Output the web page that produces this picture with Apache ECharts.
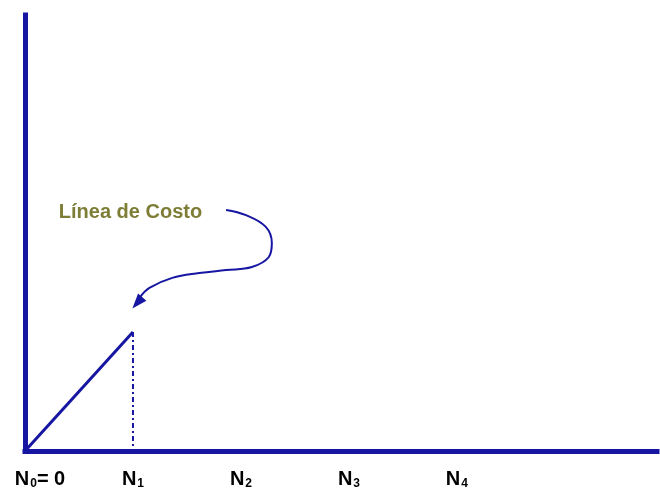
<!DOCTYPE html>
<html>
<head>
<meta charset="utf-8">
<script src="https://cdn.jsdelivr.net/npm/echarts@6/dist/echarts.min.js"></script>
<style>html,body{margin:0;padding:0;background:#fff}#c{width:660px;height:493px}</style>
</head>
<body>
<div id="c"></div>
<script>
// Tick labels (subscript index per N tick)
var tickValues = [0, 1, 2, 3, 4];
var tickSubs = ['0', '1', '2', '3', '4'];
// Cost line: from origin to N1
var costLine = [[0, 0], [1, 27.3]];
// Vertical dash-dot drop at N1
var dropLine = [[1, 27.3], [1, 0]];
// Curved annotation arrow path (data coordinates)
var arrowPath = [[1.862, 55.3], [2.046, 54.1], [2.230, 51.4], [2.286, 47.7], [2.258, 44.5], [2.101, 42.2], [1.862, 41.5], [1.613, 40.8], [1.364, 39.7], [1.152, 37.4], [1.06, 35.1]];
var arrowHead = [[1.04, 34.0]];
// Annotation label
var noteText = 'Línea de Costo';
var notePos = [[0.977, 54.6]];

var blue = '#1616a2';
var chart = echarts.init(document.getElementById('c'));
chart.setOption({
  animation: false,
  backgroundColor: '#ffffff',
  grid: {left: 25, right: 0, top: 15, bottom: 42, containLabel: false},
  xAxis: {
    type: 'value', min: 0, max: 5.853, interval: 1,
    axisLine: {show: true, onZero: false, lineStyle: {color: blue, width: 5, cap: 'square'}},
    axisTick: {show: false},
    splitLine: {show: false},
    axisLabel: {
      margin: 17,
      formatter: function (v) {
        var i = tickValues.indexOf(v);
        if (i < 0) return '';
        if (i === 0) return '{f|N}{s|' + tickSubs[i] + '}{n|= 0}';
        return '{n|N}{s|' + tickSubs[i] + '}';
      },
      rich: {
        f: {fontFamily: 'Liberation Sans', fontWeight: 'bold', fontSize: 20, color: '#000', padding: [0, 0, 0, 30]},
        n: {fontFamily: 'Liberation Sans', fontWeight: 'bold', fontSize: 20, color: '#000'},
        s: {fontFamily: 'Liberation Sans', fontWeight: 'bold', fontSize: 12, color: '#000', padding: [10, 0, 0, 1]}
      }
    }
  },
  yAxis: {
    type: 'value', min: 0, max: 100,
    axisLine: {show: true, onZero: false, lineStyle: {color: blue, width: 5, cap: 'square'}},
    axisTick: {show: false},
    splitLine: {show: false},
    axisLabel: {show: false}
  },
  series: [
    {type: 'line', data: costLine, symbol: 'none', lineStyle: {color: blue, width: 3}, z: 3},
    {type: 'line', data: dropLine, symbol: 'none', lineStyle: {color: blue, width: 2, type: [5, 3, 2, 3]}, z: 3},
    {type: 'line', data: arrowPath, symbol: 'none', smooth: 0.4, lineStyle: {color: blue, width: 2}, z: 3},
    {type: 'scatter', data: arrowHead, symbol: 'triangle', symbolSize: [11, 15], symbolRotate: 139,
      itemStyle: {color: blue, opacity: 1}, z: 4},
    {type: 'scatter', data: notePos, symbolSize: 0,
      label: {show: true, position: 'inside', formatter: noteText, fontFamily: 'Liberation Sans',
        fontWeight: 'bold', fontSize: 20, color: '#5c5c02'}, z: 4}
  ]
});
</script>
</body>
</html>
